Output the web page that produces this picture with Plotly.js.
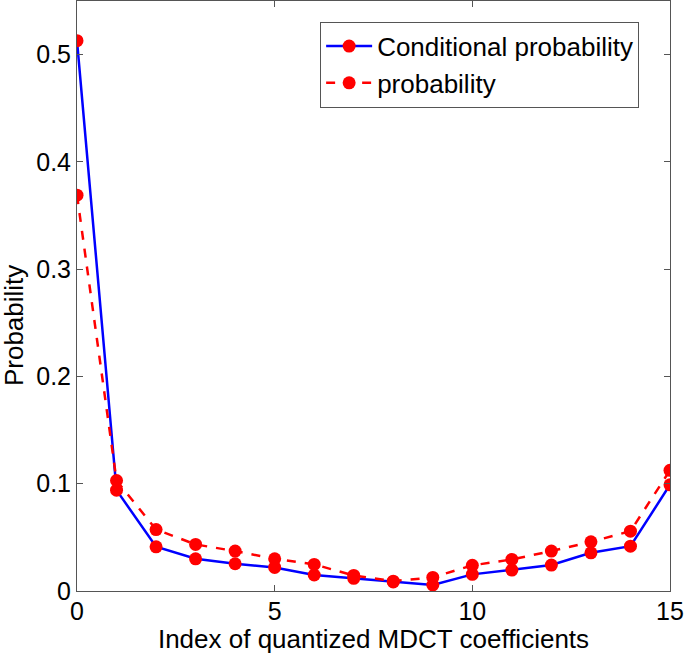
<!DOCTYPE html>
<html>
<head>
<meta charset="utf-8">
<script src="https://cdn.plot.ly/plotly-3.0.1.min.js"></script>
<style>html,body{margin:0;padding:0;background:#fff;}#chart{width:685px;height:654px;}</style>
</head>
<body>
<div id="chart"></div>
<script>
const indices = [0,1,2,3,4,5,6,7,8,9,10,11,12,13,14,15];
const conditionalProb = [0.513,0.094,0.0412,0.030,0.0254,0.022,0.0149,0.0118,0.0085,0.0056,0.0155,0.0195,0.0242,0.0356,0.0418,0.099];
const probability = [0.369,0.103,0.0573,0.0434,0.0372,0.030,0.0248,0.0145,0.0092,0.0127,0.0239,0.0294,0.0372,0.0458,0.0558,0.1125];
const seriesNames = ["Conditional probability","probability"];
const xTicks = [0,5,10,15];
const yTicks = [0,0.1,0.2,0.3,0.4,0.5];
const xTitle = "Index of quantized MDCT coefficients";
const yTitle = "Probability";

const fam = "Liberation Sans, Arial, Helvetica, sans-serif";
const tickFont = {family: fam, size: 25, color: "#000"};
const titleFont = {family: fam, size: 26, color: "#000"};

const traces = [
  {x: indices, y: conditionalProb, name: seriesNames[0], mode: "lines+markers",
   line: {color: "#0000ff", width: 2.5}, marker: {color: "#ff0000", size: 13}},
  {x: indices, y: probability, name: seriesNames[1], mode: "lines+markers",
   line: {color: "#ff0000", width: 2.5, dash: "dash"}, marker: {color: "#ff0000", size: 13}}
];

const axisCommon = {showgrid: false, zeroline: false, showline: true, linecolor: "#555", linewidth: 1,
  mirror: "ticks", ticks: "inside", ticklen: 6, tickcolor: "#555", tickfont: tickFont};

const layout = {
  width: 685, height: 654,
  margin: {l: 77, r: 15, t: 1, b: 63},
  paper_bgcolor: "#fff", plot_bgcolor: "#fff",
  font: tickFont,
  showlegend: true,
  legend: {x: 0.41, y: 0.965, xanchor: "left", yanchor: "top", bgcolor: "#fff",
    bordercolor: "#555", borderwidth: 1, itemwidth: 46,
    font: {family: fam, size: 26, color: "#000"}},
  xaxis: Object.assign({}, axisCommon, {range: [0, 15], tickvals: xTicks, ticklabelstandoff: -2,
    title: {text: xTitle, font: titleFont, standoff: 6}}),
  yaxis: Object.assign({}, axisCommon, {range: [0, 0.55], tickvals: yTicks}),
  annotations: [
    {text: yTitle, xref: "paper", yref: "paper", x: -0.107, y: 0.45, xanchor: "center", yanchor: "middle",
     textangle: -90, showarrow: false, font: titleFont}
  ]
};

Plotly.newPlot("chart", traces, layout, {displayModeBar: false, staticPlot: true});
</script>
</body>
</html>
